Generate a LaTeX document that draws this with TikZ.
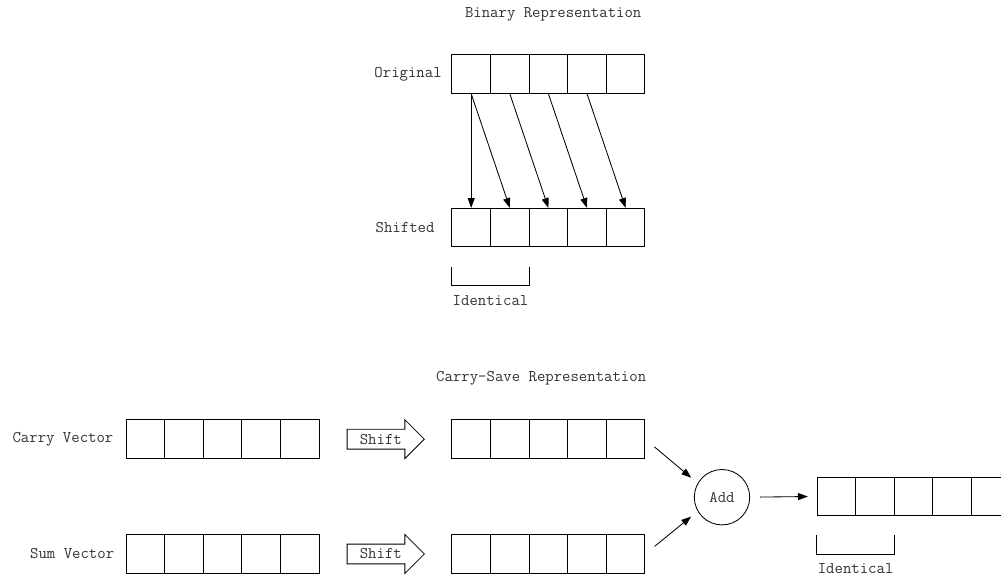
\documentclass[tikz,border=0pt]{standalone}
\usepackage{fontspec}
\usetikzlibrary{positioning, calc, arrows.meta, shapes.arrows}

\begin{document}
\begin{tikzpicture}[
        cell/.style={rectangle, draw, minimum size=0.965cm, inner sep=0pt},
        lbl/.style={font=\ttfamily\fontsize{11.6}{13}\selectfont, text=black!80, inner sep=1pt},
        shiftarrow/.style={single arrow, draw, minimum height=1.93cm, single arrow head extend=0.24cm,
            text height=8pt, text depth=1pt, inner ysep=2.25pt, inner xsep=2pt,
            font=\ttfamily\fontsize{11.6}{13}\selectfont, text=black!80},
        adder/.style={circle, draw, minimum size=1.385cm, inner sep=0pt,
            font=\ttfamily\fontsize{11.6}{13}\selectfont, text=black!80},
        line width=0.6pt,
        >={Triangle[length=7pt,width=5pt]}
    ]

    \useasboundingbox (0,0) rectangle (25.025,-14.425);

    % Binary representation
    \node[lbl] (bintitle) at (13.83,-0.35) {Binary Representation};
    \foreach \i in {1,...,5} {
        \node[cell] (o\i) at ({11.78+0.965*(\i-1)},-1.85) {};
        \node[cell] (s\i) at ({11.78+0.965*(\i-1)},-5.69) {};
    }
    \node[lbl, left=0.2cm of o1] (origlbl) {Original};
    \node[lbl, left=0.38cm of s1] (shiftlbl) {Shifted};

    \draw[->] (o1.south) -- (s1.north);
    \foreach \i [evaluate=\i as \j using int(\i+1)] in {1,...,4}
        \draw[->] (o\i.south) -- (s\j.north);

    % bracket under the first two bits
    \coordinate (b1a) at ([yshift=-0.5cm]s1.south west);
    \coordinate (b1b) at ([yshift=-0.95cm]s1.south west);
    \coordinate (b1c) at ([yshift=-0.95cm]s2.south east);
    \coordinate (b1d) at ([yshift=-0.5cm]s2.south east);
    \coordinate (b1m) at ($(b1b)!0.5!(b1c)$);
    \draw (b1a) -- (b1b) -- (b1c) -- (b1d);
    \node[lbl, below=0.2cm of b1m] (ident1) {Identical};

    % Carry-save representation
    \node[lbl] (cstitle) at (13.53,-9.45) {Carry-Save Representation};
    \foreach \i in {1,...,5} {
        \node[cell] (c\i) at ({3.633+0.965*(\i-1)},-10.98) {};
        \node[cell] (u\i) at ({3.633+0.965*(\i-1)},-13.85) {};
        \node[cell] (cs\i) at ({11.78+0.965*(\i-1)},-10.98) {};
        \node[cell] (us\i) at ({11.78+0.965*(\i-1)},-13.85) {};
        \node[cell] (r\i) at ({20.908+0.965*(\i-1)},-12.41) {};
    }
    \node[lbl, left=0.26cm of c1] (carrylbl) {Carry Vector};
    \node[lbl, left=0.24cm of u1] (sumlbl) {Sum Vector};

    \node[shiftarrow] (shc) at (9.52,-10.98) {Shift};
    \node[shiftarrow] (shu) at (9.52,-13.85) {Shift};

    \node[adder] (add) at (18.05,-12.43) {Add};
    \draw[->, shorten <=0.3cm, shorten >=0.21cm] (cs5.east) -- (add.150);
    \draw[->, shorten <=0.3cm, shorten >=0.21cm] (us5.east) -- (add.210);
    \draw[->, shorten <=0.25cm, shorten >=0.22cm] (add.east) -- (r1.west);

    \coordinate (b2a) at ([yshift=-0.48cm]r1.south west);
    \coordinate (b2b) at ([yshift=-0.95cm]r1.south west);
    \coordinate (b2c) at ([yshift=-0.95cm]r2.south east);
    \coordinate (b2d) at ([yshift=-0.48cm]r2.south east);
    \coordinate (b2m) at ($(b2b)!0.5!(b2c)$);
    \draw (b2a) -- (b2b) -- (b2c) -- (b2d);
    \node[lbl, below=0.2cm of b2m] (ident2) {Identical};

\end{tikzpicture}
\end{document}
